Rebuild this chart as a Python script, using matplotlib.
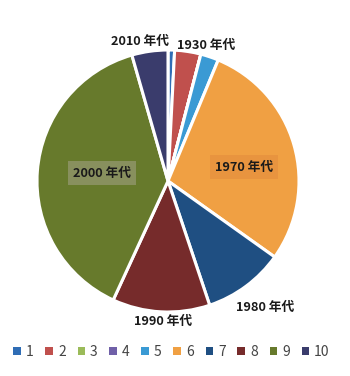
import matplotlib
matplotlib.use("Agg")
import matplotlib.pyplot as plt
from matplotlib.patches import Rectangle

plt.rcParams['font.family'] = ['Noto Sans CJK JP', 'DejaVu Sans']

categories = ['1', '2', '3', '4', '5', '6', '7', '8', '9', '10']
values = [0.8, 3.2, 0.0, 0.0, 2.2, 28.3, 9.9, 11.9, 38.3, 4.4]
colors = ['#2F6DB5', '#C0504D', '#9BBB59', '#7060A8', '#3A9AD4', '#F0A043',
          '#1F4F82', '#762B2B', '#677A2C', '#3A3C6C']
slice_labels = {1: '1930 年代', 5: '1970 年代', 6: '1980 年代', 7: '1990 年代',
                8: '2000 年代', 9: '2010 年代'}

W, H = 350, 376
fig = plt.figure(figsize=(W / 100, H / 100), dpi=100)
fig.patch.set_facecolor('white')

cx, cy, r = 168, 181, 131
ax = fig.add_axes([(cx - r) / W, (H - cy - r) / H, 2 * r / W, 2 * r / H])
ax.pie(values, colors=colors, startangle=90, counterclock=False,
       wedgeprops=dict(edgecolor='white', linewidth=2.2))
ax.set_xlim(-1, 1)
ax.set_ylim(-1, 1)
ax.set_aspect('equal')
ax.axis('off')

# label positions in pixels (x, y from top), with optional background box
label_pos = {
    1: (206, 45, None),
    5: (244, 167, '#E8943F'),
    6: (265, 307, None),
    7: (163, 322, None),
    8: (102, 173, '#88905E'),
    9: (140, 42, None),
}
for idx, (px, py, bg) in label_pos.items():
    kw = {}
    if bg:
        kw['bbox'] = dict(boxstyle='square,pad=0.4', facecolor=bg, edgecolor='none')
    fig.text(px / W, 1 - py / H, slice_labels[idx], ha='center', va='center',
             fontsize=9.2, fontweight='bold', color='#1a1a1a', **kw)

# legend
handles = [Rectangle((0, 0), 1, 1, facecolor=c, edgecolor='none') for c in colors]
leg = fig.legend(handles, categories, loc='center', bbox_to_anchor=(0.49, 1 - 352 / H),
                 ncol=10, frameon=False, handlelength=0.55, handleheight=0.55,
                 handletextpad=0.35, columnspacing=0.85, fontsize=10,
                 labelcolor='#444444')

fig.savefig('out.png', dpi=100, facecolor='white')
